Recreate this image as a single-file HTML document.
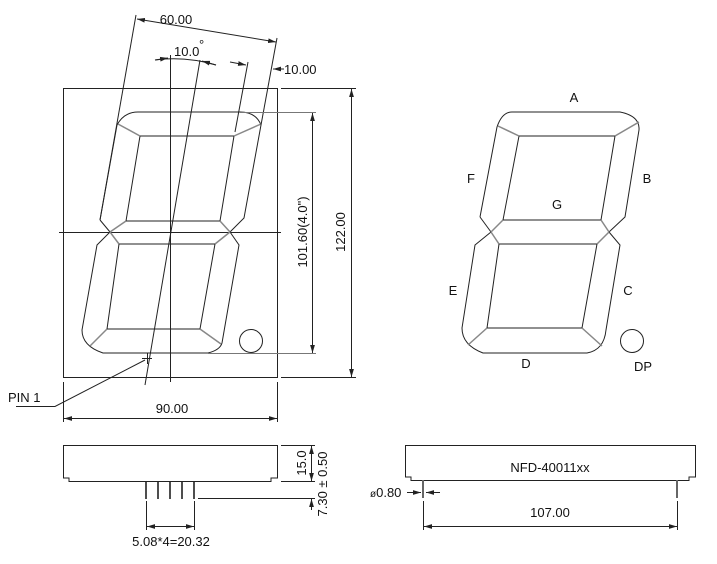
<!DOCTYPE html>
<html><head><meta charset="utf-8"><style>
html,body{margin:0;padding:0;background:#fff;}
svg{display:block;}
text{font-family:"Liberation Sans",sans-serif;font-size:13px;fill:#111;}
</style></head><body>
<svg width="717" height="564" viewBox="0 0 717 564" xmlns="http://www.w3.org/2000/svg">
<defs>
<marker id="ar" viewBox="0 0 10 6" refX="10" refY="3" markerWidth="8" markerHeight="5" orient="auto-start-reverse"><path d="M0,0 L10,3 L0,6 z" fill="#222"/></marker>
</defs>
<g fill="none" stroke="#222" stroke-width="1">
<rect x="63.5" y="88.5" width="214" height="289"/>
<line x1="59" y1="232.5" x2="281" y2="232.5"/>
<line x1="170.5" y1="55" x2="170.5" y2="382"/>
<line x1="200" y1="60" x2="145" y2="385"/>
<path d="M100,220 L117,125 Q124,112 138,112 L240,112 Q256,112 261,125 L244,218 L230,232"/>
<path d="M100,220 L110,232"/>
<path d="M110,232 L97,245 L82,330 Q82,346 103,353 L208,353 Q220,350 222,343 L239,245 L230,232"/>
<path d="M140,136 L234,136 L220,221 L126,221 Z"/>
<path d="M119,244 L215,244 L200,329 L107,329 Z"/>
<g stroke="#888" stroke-width="1.5">
<line x1="118" y1="124" x2="140" y2="136"/><line x1="261" y1="124" x2="234" y2="136"/>
<line x1="110" y1="232" x2="126" y2="221"/><line x1="110" y1="232" x2="119" y2="244"/>
<line x1="230" y1="232" x2="220" y2="221"/><line x1="230" y1="232" x2="215" y2="244"/>
<line x1="90" y1="346" x2="107" y2="329"/><line x1="221" y1="344" x2="200" y2="329"/>
</g>
<circle cx="251" cy="341" r="11.5"/>
<line x1="136" y1="15" x2="100" y2="220"/>
<line x1="277" y1="38" x2="261" y2="125"/>
<line x1="248" y1="62" x2="235" y2="132"/>
<line x1="137" y1="19" x2="276" y2="42" marker-start="url(#ar)" marker-end="url(#ar)"/>
<line x1="230" y1="62" x2="246" y2="65" marker-end="url(#ar)"/>
<line x1="284" y1="69" x2="273" y2="69" marker-end="url(#ar)"/>
<path d="M155,60 Q185,56 216,65"/>
<line x1="155" y1="60" x2="168" y2="58" marker-end="url(#ar)"/>
<line x1="216" y1="65" x2="202" y2="61" marker-end="url(#ar)"/>
<g stroke="#777"><line x1="240" y1="112.5" x2="316" y2="112.5"/><line x1="208" y1="353.5" x2="316" y2="353.5"/></g>
<line x1="312.5" y1="113" x2="312.5" y2="353" marker-start="url(#ar)" marker-end="url(#ar)"/>
<line x1="281" y1="88.5" x2="356" y2="88.5"/><line x1="281" y1="377.5" x2="356" y2="377.5"/>
<line x1="351.5" y1="89" x2="351.5" y2="377" marker-start="url(#ar)" marker-end="url(#ar)"/>
<line x1="63.5" y1="382" x2="63.5" y2="422"/><line x1="277.5" y1="382" x2="277.5" y2="422"/>
<line x1="64" y1="418.5" x2="277" y2="418.5" marker-start="url(#ar)" marker-end="url(#ar)"/>
<path d="M16,406.5 L55,406.5 L145,360"/>
<line x1="142" y1="358.5" x2="152" y2="358.5"/><line x1="147.5" y1="353" x2="147.5" y2="364"/>
<path d="M63.5,478 L63.5,445.5 L277.5,445.5 L277.5,478 L271,478 L271,481.5 L69,481.5 L69,478 Z"/>
<g stroke-width="1.6"><line x1="146" y1="481" x2="146" y2="499"/><line x1="158" y1="481" x2="158" y2="499"/><line x1="170" y1="481" x2="170" y2="499"/><line x1="182" y1="481" x2="182" y2="499"/><line x1="194" y1="481" x2="194" y2="499"/></g>
<line x1="281" y1="445.5" x2="315" y2="445.5"/><line x1="281" y1="481.5" x2="315" y2="481.5"/>
<line x1="311.5" y1="446" x2="311.5" y2="481" marker-start="url(#ar)" marker-end="url(#ar)"/>
<line x1="198" y1="498.5" x2="315" y2="498.5"/>
<line x1="311.5" y1="510" x2="311.5" y2="499" marker-end="url(#ar)"/>
<line x1="146.5" y1="501" x2="146.5" y2="530"/><line x1="194.5" y1="501" x2="194.5" y2="530"/>
<line x1="147" y1="526.5" x2="194" y2="526.5" marker-start="url(#ar)" marker-end="url(#ar)"/>
<path d="M405.5,477 L405.5,445.5 L695.5,445.5 L695.5,477 L689,477 L689,480.5 L411,480.5 L411,477 Z"/>
<g stroke="#666" stroke-width="2"><line x1="423" y1="480" x2="423" y2="498"/><line x1="677" y1="480" x2="677" y2="498"/></g>
<line x1="407" y1="492.5" x2="421" y2="492.5" marker-end="url(#ar)"/>
<line x1="440" y1="492.5" x2="426" y2="492.5" marker-end="url(#ar)"/>
<line x1="423.5" y1="501" x2="423.5" y2="530"/><line x1="677.5" y1="501" x2="677.5" y2="530"/>
<line x1="424" y1="526.5" x2="677" y2="526.5" marker-start="url(#ar)" marker-end="url(#ar)"/>
<path d="M480,217 L497,127 Q502,112 512,112 L620,112 Q640,116 639,130 L625,217 L609,232"/>
<path d="M480,217 L491,232"/>
<path d="M491,232 L475,245 L462,328 Q462,345 483,353 L587,353 Q604,350 606,330 L620,245 L609,232"/>
<path d="M519,136 L615,136 L601,220 L503,220 Z"/>
<path d="M499,244 L597,244 L582,328 L487,328 Z"/>
<g stroke="#888" stroke-width="1.5">
<line x1="498" y1="126" x2="519" y2="136"/><line x1="639" y1="122" x2="615" y2="136"/>
<line x1="491" y1="232" x2="503" y2="220"/><line x1="491" y1="232" x2="499" y2="244"/>
<line x1="609" y1="232" x2="601" y2="220"/><line x1="609" y1="232" x2="597" y2="244"/>
<line x1="468" y1="345" x2="487" y2="328"/><line x1="602" y1="346" x2="582" y2="328"/>
</g>
<circle cx="632" cy="341" r="11.5"/>
</g>
<text x="176" y="24" text-anchor="middle">60.00</text>
<text x="174" y="56">10.0</text><text x="199" y="49" font-size="9">°</text>
<text x="284" y="74">10.00</text>
<text transform="translate(307,232) rotate(-90)" text-anchor="middle">101.60(4.0")</text>
<text transform="translate(345,232) rotate(-90)" text-anchor="middle">122.00</text>
<text x="172" y="413" text-anchor="middle">90.00</text>
<text x="8" y="402">PIN 1</text>
<text transform="translate(306,463) rotate(-90)" text-anchor="middle">15.0</text>
<text transform="translate(327,484) rotate(-90)" text-anchor="middle">7.30 ± 0.50</text>
<text x="171" y="546" text-anchor="middle">5.08*4=20.32</text>
<text x="550" y="472" text-anchor="middle">NFD-40011xx</text>
<text x="370" y="497"><tspan font-size="10">ø</tspan>0.80</text>
<text x="550" y="517" text-anchor="middle">107.00</text>
<text x="574" y="102" text-anchor="middle">A</text>
<text x="647" y="183" text-anchor="middle">B</text>
<text x="628" y="295" text-anchor="middle">C</text>
<text x="526" y="368" text-anchor="middle">D</text>
<text x="453" y="295" text-anchor="middle">E</text>
<text x="471" y="183" text-anchor="middle">F</text>
<text x="557" y="209" text-anchor="middle">G</text>
<text x="643" y="371" text-anchor="middle">DP</text>
</svg>
</body></html>
